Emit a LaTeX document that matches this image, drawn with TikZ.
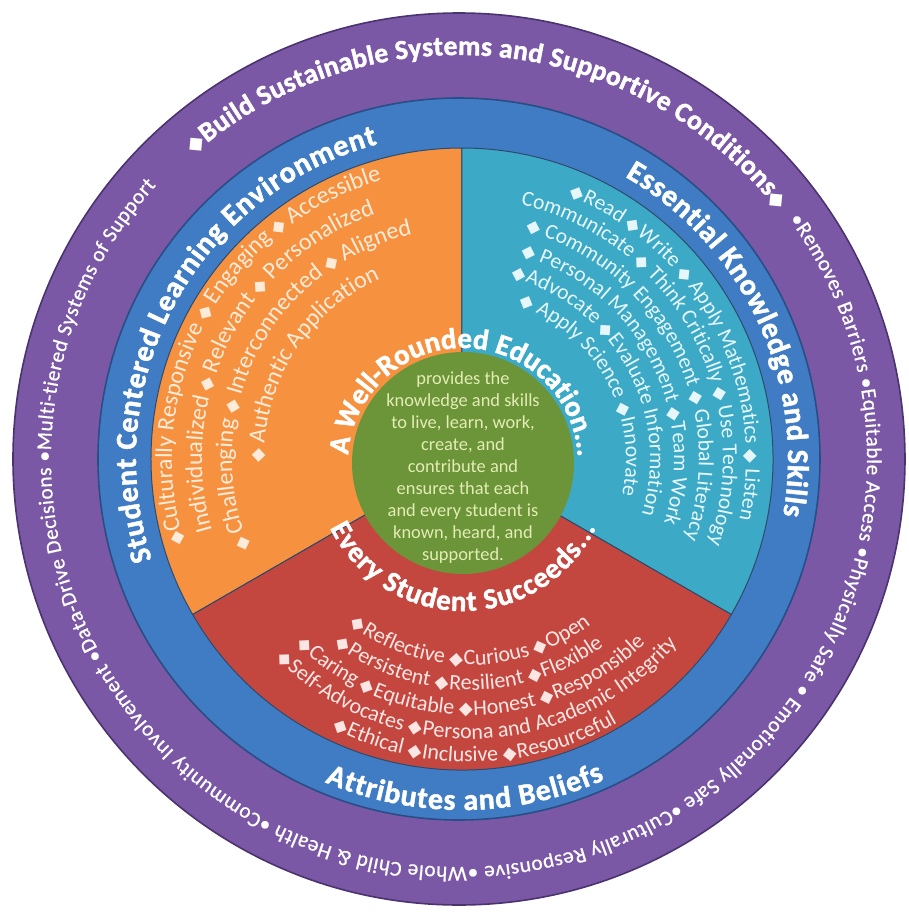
\documentclass[tikz,border=0pt]{standalone}
\usepackage{fontspec}
\setmainfont{Carlito}
\newfontfamily\heavyfont{Carlito}[BoldFeatures={FakeBold=1.5}]
\newfontfamily\ringfam{Carlito}[FakeBold=0.7]
\newfontfamily\diafont{DejaVu Sans}
\usetikzlibrary{decorations.text}

\definecolor{ringpurple}{HTML}{7B58A6}
\definecolor{ringpurpleline}{HTML}{4A336E}
\definecolor{ringblue}{HTML}{3F7CC3}
\definecolor{ringblueline}{HTML}{294D85}
\definecolor{envorange}{HTML}{F6923F}
\definecolor{skillcyan}{HTML}{3CA9C6}
\definecolor{beliefred}{HTML}{C4473F}
\definecolor{coregreen}{HTML}{6C9439}
\definecolor{coretext}{HTML}{E3EDB4}
\definecolor{orangetext}{HTML}{FFEBD9}
\definecolor{cyantext}{HTML}{E6F7FB}
\definecolor{redtext}{HTML}{FCE6E4}
\definecolor{sectorline}{HTML}{2E4A6C}

\newcommand\dm{\hbox{\diafont\fontsize{4.5}{4.5}\selectfont ◆\kern0.25pt}}
\newcommand\dmsp{\hbox{\diafont\fontsize{4.5}{4.5}\selectfont ◆\kern1.25pt}}
\newcommand\dmbig{\hbox{\diafont\fontsize{5.5}{5.5}\selectfont ◆}}
\newcommand\headfont[1]{\heavyfont\bfseries\fontsize{#1}{#1}\selectfont}
\newcommand\rowfont[1]{\fontsize{#1}{#1}\selectfont}

\tikzset{
  arctext/.style={decorate, decoration={text along path, text align=fit to path, text color=white}},
  rowtext/.style={decorate, decoration={text along path, text align=left, text color=#1}},
}

\begin{document}
\begin{tikzpicture}[x=0.25pt, y=0.25pt]
\useasboundingbox (-462,-454) rectangle (447,459);
\coordinate (O) at (0,0);
\coordinate (P) at (-3,0);
\coordinate (G) at (1,-4);
\coordinate (Q) at (8,-6);

\draw[draw=ringpurpleline, fill=ringpurple, line width=0.4pt] (P) circle[radius=446];
\draw[draw=ringblueline, fill=ringblue, line width=0.4pt] (P) circle[radius=361];
\draw[draw=sectorline, fill=envorange, line width=0.25pt] (O) -- (90:311) arc[start angle=90, end angle=210, radius=311] -- cycle;
\draw[draw=sectorline, fill=skillcyan, line width=0.25pt] (O) -- (-30:311) arc[start angle=-30, end angle=90, radius=311] -- cycle;
\draw[draw=sectorline, fill=beliefred, line width=0.25pt] (O) -- (210:311) arc[start angle=210, end angle=330, radius=311] -- cycle;
\fill[coregreen] (G) circle[radius=111];

\node[text=coretext, align=center, font=\fontsize{4.6}{5.5}\selectfont] (core) at (1,-9)
  {provides the\\knowledge and skills\\to live, learn, work,\\create, and\\contribute and\\ensures that each\\and every student is\\known, heard, and\\supported.};

\path[arctext, decoration={text={|\headfont{6.9}|{\dmbig}Build Sustainable Systems and Supportive Conditions{\dmbig}}}]
  ([shift={(131:404)}]P) arc[start angle=131, end angle=38, radius=404];
\path[arctext, decoration={text={|\ringfam\rowfont{5.3}|•Removes Barriers •Equitable Access •Physically Safe • Emotionally Safe •Culturally Responsive •Whole Child {\&} Health •Community Involvement •Data-Drive Decisions •Multi-tiered Systems of Support}}]
  ([shift={(36:408)}]P) arc[start angle=36, end angle=-222, radius=408];

\path[arctext, decoration={text={|\headfont{7.5}|Student Centered Learning Environment}}]
  (198:326) arc[start angle=198, end angle=105, radius=326];
\path[arctext, decoration={text={|\headfont{7.5}|Essential Knowledge and Skills}}]
  (60:326) arc[start angle=60, end angle=-10, radius=326];
\path[arctext, decoration={text={|\headfont{7.5}|Attributes and Beliefs}}]
  (247:351) arc[start angle=247, end angle=294, radius=351];

\path[arctext, decoration={text={|\headfont{7.25}|A Well-Rounded Education...}}]
  ([shift={(176:115)}]G) arc[start angle=176, end angle=3, radius=115];
\path[arctext, decoration={text={|\headfont{7.25}|Every Student Succeeds...}}]
  ([shift={(206:148)}]G) arc[start angle=206, end angle=334, radius=148];

\path[rowtext=orangetext, decoration={text={|\rowfont{6}|{\dm}Culturally Responsive {\dmsp}Engaging {\dmsp}Accessible}}]
  (197:290) arc[start angle=197, end angle=92, radius=290];
\path[rowtext=orangetext, decoration={text={|\rowfont{6}|Individualized {\dmsp}Relevant {\dmsp}Personalized}}]
  (196:260) arc[start angle=196, end angle=92, radius=260];
\path[rowtext=orangetext, decoration={text={|\rowfont{6}|{\dmsp}Challenging {\dmsp}Interconnected {\dmsp}Aligned}}]
  (203:230) arc[start angle=203, end angle=92, radius=230];
\path[rowtext=orangetext, decoration={text={|\rowfont{6}|{\dmsp}Authentic Application}}]
  (181:198) arc[start angle=181, end angle=92, radius=198];

\path[rowtext=cyantext, decoration={text={|\rowfont{5.4}|{\dm}Read {\dm}Write {\dmsp}Apply Mathematics {\dmsp}Listen}}]
  (68:284) arc[start angle=68, end angle=-28, radius=284];
\path[rowtext=cyantext, decoration={text={|\rowfont{5.4}|Communicate {\dmsp}Think Critically {\dmsp}Use Technology}}]
  (77:261) arc[start angle=77, end angle=-28, radius=261];
\path[rowtext=cyantext, decoration={text={|\rowfont{5.4}|{\dmsp}Community Engagement {\dmsp}Global Literacy}}]
  (74.5:237) arc[start angle=74.5, end angle=-28, radius=237];
\path[rowtext=cyantext, decoration={text={|\rowfont{5.4}|{\dmsp}Personal Management {\dm}Team Work}}]
  (74:212) arc[start angle=74, end angle=-28, radius=212];
\path[rowtext=cyantext, decoration={text={|\rowfont{5.4}|{\dm}Advocate {\dm}Evaluate Information}}]
  (75:188) arc[start angle=75, end angle=-28, radius=188];
\path[rowtext=cyantext, decoration={text={|\rowfont{5.4}|{\dmsp}Apply Science {\dm}Innovate}}]
  (70:164) arc[start angle=70, end angle=-28, radius=164];

\path[rowtext=redtext, decoration={text={|\rowfont{5.5}|{\dm}Reflective {\dm}Curious {\dm}Open}}]
  ([shift={(233:200)}]Q) arc[start angle=233, end angle=328, radius=200];
\path[rowtext=redtext, decoration={text={|\rowfont{5.5}|{\dm}Persistent {\dm}Resilient {\dm}Flexible}}]
  ([shift={(233:225)}]Q) arc[start angle=233, end angle=328, radius=225];
\path[rowtext=redtext, decoration={text={|\rowfont{5.5}|{\dm}Caring {\dm}Equitable {\dm}Honest {\dm}Responsible}}]
  ([shift={(226:250)}]Q) arc[start angle=226, end angle=328, radius=250];
\path[rowtext=redtext, decoration={text={|\rowfont{5.5}|{\dm}Self-Advocates {\dm}Persona and Academic Integrity}}]
  ([shift={(225:274)}]Q) arc[start angle=225, end angle=328, radius=274];
\path[rowtext=redtext, decoration={text={|\rowfont{5.5}|{\dm}Ethical {\dm}Inclusive {\dm}Resourceful}}]
  ([shift={(242.4:297)}]Q) arc[start angle=242.4, end angle=318, radius=297];
\end{tikzpicture}
\end{document}
